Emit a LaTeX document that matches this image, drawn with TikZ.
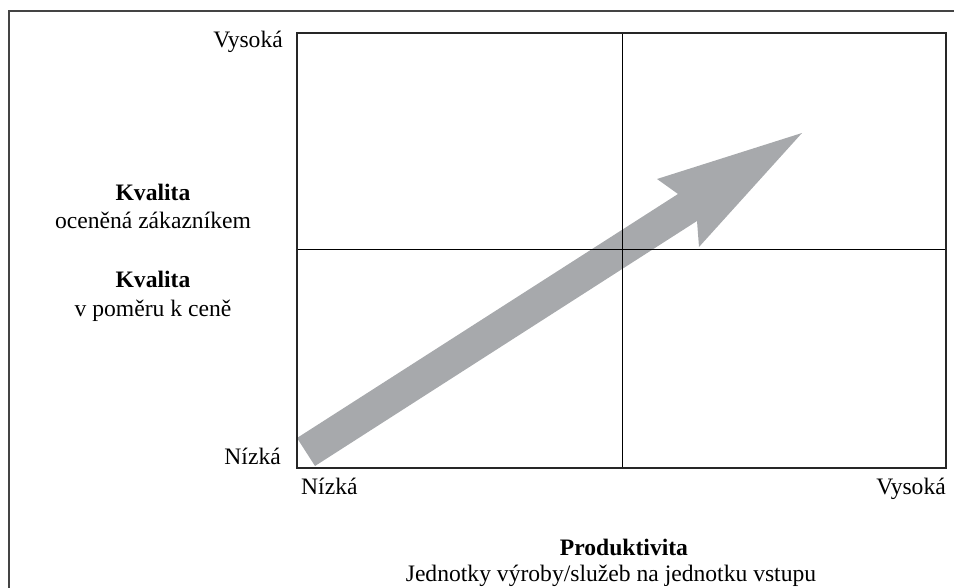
\documentclass[tikz,border=0pt]{standalone}
\usepackage{fontspec}
\setmainfont{Liberation Serif}
\definecolor{arrowgray}{HTML}{A7A9AC}
\definecolor{framegray}{HTML}{444444}
\begin{document}
\begin{tikzpicture}[x=1pt,y=-1pt,
  lbl/.style={inner sep=0pt,font=\fontsize{23.6}{28}\selectfont,text=black},
  boldlbl/.style={lbl,font=\fontsize{23.6}{28}\selectfont\bfseries}]
\useasboundingbox (0,0) rectangle (954,588);
% outer frame (cropped)
\draw[framegray,line width=1.3pt] (9,588) -- (9,11) -- (954,11);
% arrow
\fill[arrowgray] (297,438) -- (678,194) -- (657,179) -- (802,133) -- (699,247) -- (697,221) -- (315,466) -- cycle;
% quadrant lines
\draw[black,line width=0.9pt] (622,33) -- (622,468);
\draw[black,line width=0.9pt] (297,249) -- (946,249);
% main box
\draw[black!85,line width=2.6pt] (297,33) rectangle (946,468);
% labels
\node[lbl,anchor=base east] (yhi) at (283,48) {Vysoká};
\node[lbl,anchor=base east] (ylo) at (281,464) {Nízká};
\node[boldlbl,anchor=base] (k1) at (153,201) {Kvalita};
\node[lbl,anchor=base] (k1s) at (153,229) {oceněná zákazníkem};
\node[boldlbl,anchor=base] (k2) at (153,288) {Kvalita};
\node[lbl,anchor=base] (k2s) at (153,317) {v poměru k ceně};
\node[lbl,anchor=base west] (xlo) at (301,494) {Nízká};
\node[lbl,anchor=base east] (xhi) at (946,494) {Vysoká};
\node[boldlbl,anchor=base] (p) at (624,555) {Produktivita};
\node[lbl,anchor=base] (ps) at (611,581) {Jednotky výroby/služeb na jednotku vstupu};
\end{tikzpicture}
\end{document}
